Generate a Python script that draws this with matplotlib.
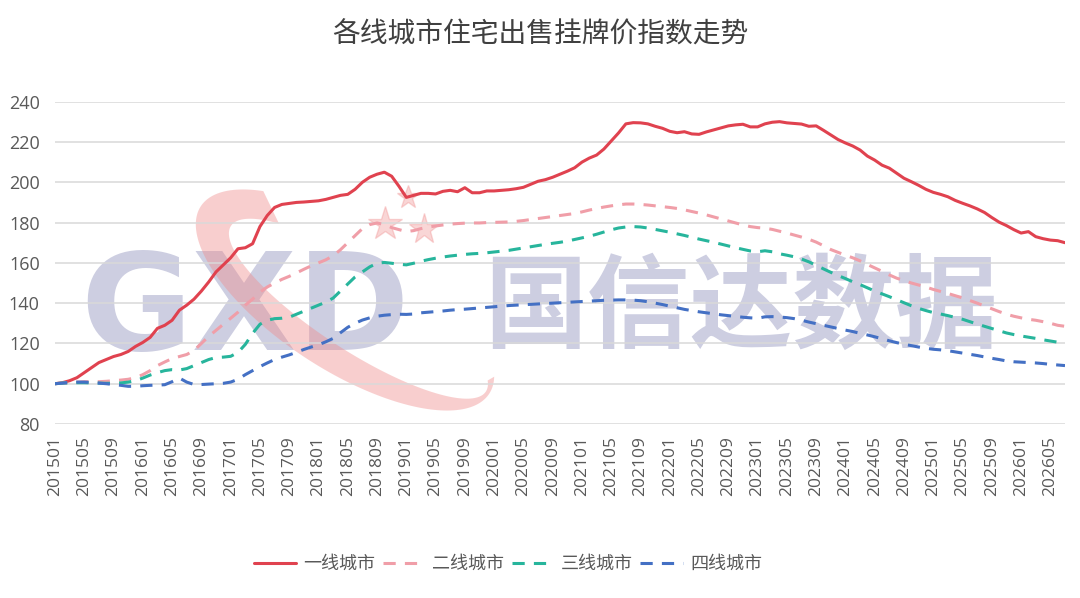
import matplotlib
matplotlib.use("Agg")
import matplotlib.pyplot as plt
import numpy as np
import pandas as pd
from matplotlib.patches import Polygon

plt.rcParams["font.family"] = ["Open Sans", "Noto Sans CJK SC", "DejaVu Sans"]

# monthly index, 201501 .. 202607
months = pd.period_range("2015-01", periods=139, freq="M").strftime("%Y%m").tolist()

tier1 = [
    100, 100.5, 101.5, 103, 105.5, 108, 110.5, 112, 113.5, 114.5,
    116, 118.5, 120.5, 123, 127.5, 129, 131.5, 136.5, 139, 142,
    146, 150.5, 155.5, 159, 162.5, 167, 167.5, 169.5, 178, 183.5,
    187.5, 189, 189.5, 190, 190.2, 190.5, 190.8, 191.5, 192.5, 193.5,
    194, 196.5, 200, 202.5, 204, 205, 203, 198, 192.5, 193.5,
    194.5, 194.5, 194.2, 195.5, 196, 195.3, 197.3, 194.8, 194.8, 195.7,
    195.7, 196, 196.3, 196.8, 197.5, 199, 200.5, 201.3, 202.5, 204,
    205.5, 207.2, 210, 212, 213.5, 216.5, 220.5, 224.5, 229, 229.6,
    229.5, 229, 227.8, 226.8, 225.3, 224.6, 225.1, 224, 223.8, 225,
    226, 227, 228, 228.5, 228.8, 227.5, 227.5, 229, 229.8, 230.1,
    229.5, 229.2, 228.9, 227.8, 228, 225.8, 223.5, 221.2, 219.5, 218,
    216, 213, 211, 208.5, 207, 204.5, 202, 200.3, 198.5, 196.5,
    195, 194, 192.8, 191, 189.6, 188.3, 186.8, 185, 182.5, 180.2,
    178.5, 176.5, 174.8, 175.5, 173, 172, 171.3, 171, 170,
]

tier2 = [
    100, 100.3, 100.5, 100.8, 101, 101, 101, 101.2, 101.5, 101.8,
    102.2, 103, 104.5, 106.5, 109, 110.8, 112.5, 113.5, 114.5, 116.5,
    120, 123.5, 126.5, 129.5, 132.5, 135.5, 139, 142, 145.5, 148,
    150, 151.8, 153.3, 155, 156.8, 158.5, 160, 161.5, 163.5, 166.5,
    170, 173.5, 177, 179, 179.8, 179, 177.5, 176.5, 175.5, 176,
    177, 177.8, 178.3, 178.8, 179.2, 179.5, 179.7, 179.8, 179.8, 180,
    180.1, 180.2, 180.3, 180.6, 181, 181.5, 182, 182.5, 183, 183.5,
    184, 184.5, 185.3, 186.2, 187, 187.7, 188.3, 188.8, 189.2, 189.2,
    189, 188.7, 188.3, 187.9, 187.5, 187, 186.3, 185.5, 184.7, 183.8,
    182.8, 181.8, 180.8, 179.8, 178.8, 178, 177.5, 177.2, 176.6, 175.7,
    174.8, 173.8, 172.8, 171.7, 170.3, 168.5, 166.6, 165.2, 163.8, 162.5,
    161, 159.2, 157.5, 155.8, 154, 152.4, 151.2, 150, 149, 148,
    146.8, 145.8, 144.8, 143.7, 142.6, 141.3, 140, 138.6, 137.2, 135.8,
    134.5, 133.5, 132.7, 132, 131.5, 130.8, 130, 129, 128.5,
]

tier3 = [
    100, 100.3, 100.5, 100.5, 100.5, 100.4, 100.3, 100.2, 100.2, 100.4,
    100.8, 101.5, 102.8, 104.3, 105.5, 106.5, 107, 106.8, 107.5, 109,
    110.5, 112, 113, 113.2, 113.6, 115.5, 119.5, 125, 129.5, 131.5,
    132.3, 132.5, 133, 134.5, 136, 137.5, 139, 140.5, 142.5, 146,
    149.5, 153, 155.5, 158, 159.8, 160.2, 159.8, 159.3, 159, 159.8,
    160.8, 161.6, 162.3, 162.9, 163.4, 163.8, 164.2, 164.5, 164.7, 165,
    165.4, 165.8, 166.2, 166.8, 167.4, 168, 168.6, 169.2, 169.7, 170.2,
    170.8, 171.6, 172.4, 173.2, 174.2, 175.3, 176.4, 177.3, 177.8, 178,
    177.8, 177.3, 176.6, 175.9, 175.2, 174.4, 173.6, 172.7, 171.8, 171,
    170.2, 169.3, 168.4, 167.5, 166.7, 165.9, 165.5, 166, 165.5, 164.5,
    163.8, 163, 161.9, 160.5, 158.8, 157, 155.3, 153.7, 152.2, 150.6,
    149.2, 147.6, 146, 144.6, 143.2, 141.7, 140.2, 138.7, 137.4, 136.3,
    135.3, 134.6, 133.8, 132.9, 132, 130.8, 129.6, 128.5, 127.4, 126.3,
    125.2, 124.4, 123.7, 123.1, 122.5, 121.8, 121.2, 120.6, 120.2,
]

tier4 = [
    100, 100.3, 100.6, 100.8, 100.8, 100.6, 100.3, 100, 99.6, 99.2,
    98.7, 98.7, 99, 99.2, 99.3, 99.5, 101, 102.8, 100.8, 99.6,
    99.6, 99.8, 100, 100.2, 100.8, 102.2, 104.5, 106.5, 108.5, 110.3,
    112, 113.2, 114.3, 115.6, 117, 118.2, 119.3, 120.8, 122.5, 125.3,
    128, 130, 131.6, 132.7, 133.5, 134, 134.3, 134.5, 134.4, 134.6,
    135.2, 135.5, 135.8, 136.1, 136.5, 136.8, 137, 137.3, 137.6, 137.9,
    138.2, 138.5, 138.8, 139, 139.2, 139.4, 139.6, 139.8, 140, 140.2,
    140.4, 140.6, 140.8, 141, 141.2, 141.4, 141.5, 141.6, 141.6, 141.5,
    141.2, 140.7, 140, 139.3, 138.5, 137.7, 136.9, 136.3, 135.7, 135.2,
    134.7, 134.2, 133.8, 133.4, 133, 132.7, 132.5, 133.2, 133.3, 133.1,
    132.8, 132.3, 131.5, 130.6, 129.8, 129, 128.2, 127.4, 126.6, 125.9,
    125, 124.2, 123.3, 122.3, 121.3, 120.4, 119.6, 118.9, 118.2, 117.6,
    117.1, 116.8, 116.4, 115.8, 115.2, 114.6, 114, 113.3, 112.6, 112,
    111.3, 110.9, 110.7, 110.5, 110.3, 110, 109.6, 109.3, 109,
]

series_names = ["一线城市", "二线城市", "三线城市", "四线城市"]
colors = ["#e0424f", "#f09ea8", "#27b59c", "#4470c4"]

W, H = 1080, 598
fig = plt.figure(figsize=(W / 100, H / 100), dpi=100)
ax = fig.add_axes([55 / W, 1 - 424 / H, 1010 / W, 322.3 / H])
ax.patch.set_visible(False)


def px(x, y):
    return x / W, 1 - y / H


# watermark: GXD 国信达数据 + swoosh
fig.text(*px(245, 313), "GXD", ha="center", va="center", fontsize=98,
         fontweight="bold", family="DejaVu Sans", color="#cdcee1", zorder=-3)
fig.text(*px(741, 310), "国信达数据", ha="center", va="center", fontsize=74,
         fontweight="bold", family="Noto Sans CJK SC", color="#cdcee1", zorder=-3)

c = np.array([345.0, 300.0])
ang = np.deg2rad(33)
u = np.array([np.cos(ang), np.sin(ang)])
v = np.array([-np.sin(ang), np.cos(ang)])
t_out = np.deg2rad(np.linspace(222, -14, 140))
t_in = t_out[::-1]
outer = [c + 172 * np.cos(t) * u + 70 * np.sin(t) * v for t in t_out]
inner = [c + 16 * u + 152 * np.cos(t) * u + 42 * np.sin(t) * v for t in t_in]
ring = [px(p[0], p[1]) for p in outer + inner]
fig.patches.append(Polygon(ring, closed=True, transform=fig.transFigure,
                           facecolor="#f08c8c", edgecolor="none", alpha=0.42, zorder=-2))
for sx, sy, ss in [(385, 224, 650), (424, 229, 500), (408, 197, 300)]:
    fig.add_artist(plt.Line2D([sx / W], [1 - sy / H], marker="*", markersize=np.sqrt(ss),
                              color="#f08c8c", alpha=0.35, linestyle="none",
                              transform=fig.transFigure, zorder=-2))

x = np.arange(len(months))
styles = ["-", "--", "--", "--"]
for vals, name, col, ls in zip([tier1, tier2, tier3, tier4], series_names, colors, styles):
    line, = ax.plot(x, vals, color=col, lw=2.2, linestyle=ls, label=name,
                    solid_capstyle="round", zorder=3)
    if ls == "--":
        line.set_dashes((4, 3))

ax.set_xlim(0, len(months) - 1)
ax.set_ylim(80, 240)
ax.set_yticks(np.arange(80, 241, 20))
ax.yaxis.grid(True, color="#d9d9d9", lw=1.1)
ax.set_axisbelow(True)
for sp in ax.spines.values():
    sp.set_visible(False)

ax.set_xticks(x[::4])
ax.set_xticklabels(months[::4], rotation=90, fontsize=12.5, color="#595959")
ax.tick_params(axis="x", length=0, pad=9)
ax.tick_params(axis="y", length=0, pad=11, labelsize=13, labelcolor="#595959")

fig.text(0.5, *px(0, 35)[1:], "各线城市住宅出售挂牌价指数走势", ha="center", va="center",
         fontsize=20, family="Noto Sans CJK SC", color="#404040")

leg = fig.legend(loc="center", bbox_to_anchor=(508 / W, 1 - 564 / H), ncol=4,
                 frameon=False, handlelength=2.35, handletextpad=0.4,
                 columnspacing=0.4, prop={"family": "Noto Sans CJK SC", "size": 13})
for t in leg.get_texts():
    t.set_color("#595959")

fig.savefig("out.png", dpi=100)
